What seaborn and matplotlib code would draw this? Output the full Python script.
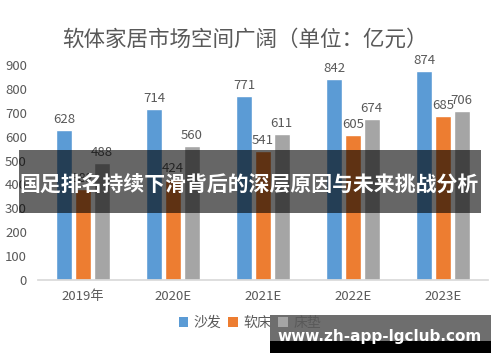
import matplotlib
matplotlib.use("Agg")
import matplotlib.pyplot as plt
from matplotlib.patches import Rectangle, Patch
import seaborn as sns
import pandas as pd

categories = ["2019年", "2020E", "2021E", "2022E", "2023E"]
series_names = ["沙发", "软床", "床垫"]
sofa = [628, 714, 771, 842, 874]
softbed = [382, 424, 541, 605, 685]
mattress = [488, 560, 611, 674, 706]
colors = ["#5B9BD5", "#ED7D31", "#A5A5A5"]

title = "软体家居市场空间广阔（单位：亿元）"
banner = "国足排名持续下滑背后的深层原因与未来挑战分析"
watermark = "www.zh-app-lgclub.com"

sns.set_theme(style="white")
plt.rcParams["font.family"] = ["Noto Sans CJK SC", "DejaVu Sans"]

rows = []
for name, vals in zip(series_names, [sofa, softbed, mattress]):
    for c, v in zip(categories, vals):
        rows.append({"cat": c, "series": name, "value": v})
df = pd.DataFrame(rows)

W, H = 500, 362
fig = plt.figure(figsize=(W / 100, H / 100), dpi=100)
ax = fig.add_axes([38 / W, (H - 280) / H, 450 / W, 215 / H])

sns.barplot(data=df, x="cat", y="value", hue="series", palette=colors,
            width=0.62, gap=0.14, ax=ax, legend=False, saturation=1)

ax.set_ylim(0, 900)
ax.set_xlim(-0.5, 4.5)
ax.set_yticks(range(0, 901, 100))
ax.set_xlabel("")
ax.set_ylabel("")
for s in ["top", "right", "left"]:
    ax.spines[s].set_visible(False)
ax.spines["bottom"].set_color("#D9D9D9")
ax.tick_params(axis="both", length=0, labelsize=9.5, colors="#595959")
ax.tick_params(axis="y", pad=8)
ax.tick_params(axis="x", pad=7)

for cont in ax.containers:
    ax.bar_label(cont, fmt="%d", padding=3, fontsize=9.5, color="#595959")

fig.text(245 / W, (H - 40) / H, title, ha="center", va="center",
         fontsize=15.5, color="#595959")

handles = [Patch(facecolor=c, edgecolor="none") for c in colors]
fig.legend(handles, series_names, loc="center", bbox_to_anchor=(250 / W, (H - 323) / H),
           ncol=3, frameon=False, fontsize=10, handlelength=0.7, handleheight=0.7,
           handletextpad=0.4, columnspacing=0.5, labelcolor="#595959")

# banner overlay
fig.add_artist(Rectangle((19 / W, (H - 213) / H), 462 / W, 63 / H,
                         transform=fig.transFigure, facecolor="black",
                         alpha=0.6, edgecolor="none", zorder=5))
fig.text(249 / W, (H - 184) / H, banner, ha="center", va="center",
         fontsize=15, fontweight="bold", color="white", zorder=6)

# watermark
fig.add_artist(Rectangle((270 / W, (H - 341) / H), 221 / W, 26 / H,
                         transform=fig.transFigure, facecolor="#555555",
                         alpha=0.85, edgecolor="none", zorder=5))
fig.add_artist(Rectangle((270 / W, (H - 353) / H), 221 / W, 12 / H,
                         transform=fig.transFigure, facecolor="black",
                         edgecolor="none", zorder=5))
fig.text(380 / W, (H - 337) / H, watermark, ha="center", va="center",
         fontsize=11, fontweight="bold", color="white", zorder=6,
         family=["DejaVu Sans"])

fig.savefig("out.png", dpi=100)
